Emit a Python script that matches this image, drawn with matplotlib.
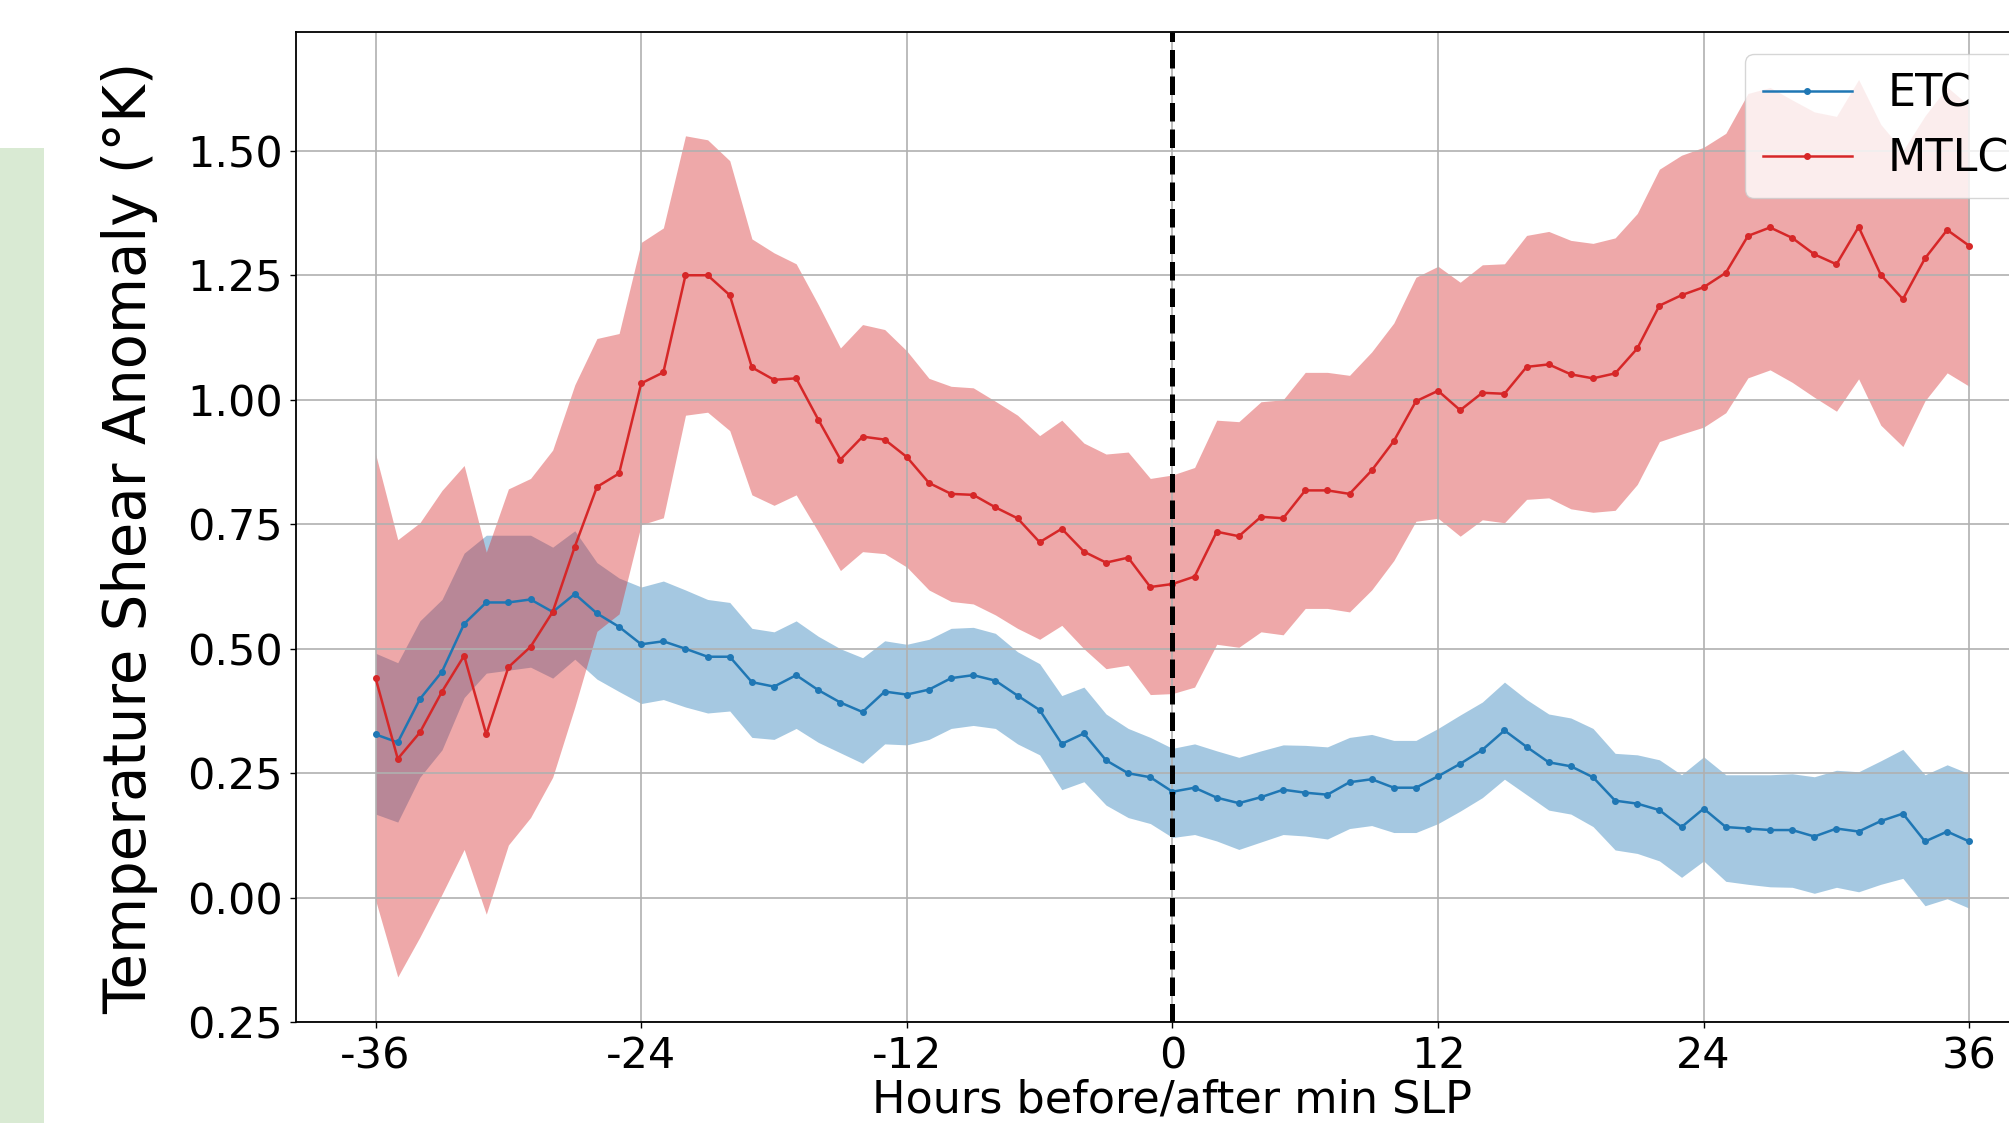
import matplotlib
matplotlib.use("Agg")
import matplotlib.pyplot as plt
from matplotlib.patches import Rectangle
import numpy as np

# hours relative to the time of minimum sea level pressure
hours = np.arange(-36, 37)

# ETC composite: mean and shaded band
etc_mean = [
    0.328, 0.312, 0.399, 0.454, 0.550, 0.593, 0.593, 0.599, 0.574, 0.610,
    0.571, 0.544, 0.509, 0.515, 0.500, 0.484, 0.484, 0.433, 0.424, 0.447,
    0.417, 0.392, 0.373, 0.414, 0.408, 0.418, 0.441, 0.447, 0.436, 0.406,
    0.377, 0.309, 0.330, 0.276, 0.250, 0.242, 0.213, 0.221, 0.201, 0.190,
    0.202, 0.217, 0.211, 0.207, 0.232, 0.238, 0.221, 0.221, 0.244, 0.269,
    0.297, 0.336, 0.303, 0.272, 0.264, 0.242, 0.195, 0.189, 0.176, 0.142,
    0.179, 0.142, 0.139, 0.136, 0.136, 0.123, 0.139, 0.133, 0.154, 0.169,
    0.113, 0.133, 0.113,
]
etc_upper = [
    0.491, 0.472, 0.556, 0.599, 0.692, 0.728, 0.728, 0.728, 0.704, 0.737,
    0.673, 0.642, 0.624, 0.636, 0.618, 0.599, 0.593, 0.541, 0.534, 0.556,
    0.525, 0.500, 0.482, 0.516, 0.509, 0.519, 0.541, 0.543, 0.531, 0.494,
    0.470, 0.406, 0.423, 0.369, 0.340, 0.322, 0.300, 0.309, 0.295, 0.282,
    0.295, 0.307, 0.306, 0.303, 0.322, 0.328, 0.316, 0.316, 0.340, 0.367,
    0.393, 0.433, 0.398, 0.369, 0.361, 0.340, 0.290, 0.287, 0.277, 0.247,
    0.283, 0.247, 0.247, 0.247, 0.249, 0.243, 0.256, 0.253, 0.275, 0.298,
    0.247, 0.267, 0.249,
]
etc_lower = [
    0.168, 0.152, 0.242, 0.297, 0.402, 0.451, 0.457, 0.463, 0.441, 0.479,
    0.439, 0.414, 0.390, 0.398, 0.383, 0.371, 0.375, 0.322, 0.318, 0.340,
    0.312, 0.291, 0.270, 0.309, 0.307, 0.318, 0.340, 0.346, 0.340, 0.309,
    0.287, 0.217, 0.233, 0.186, 0.161, 0.149, 0.121, 0.127, 0.114, 0.097,
    0.112, 0.127, 0.124, 0.118, 0.139, 0.145, 0.131, 0.131, 0.149, 0.174,
    0.201, 0.238, 0.207, 0.176, 0.168, 0.143, 0.096, 0.089, 0.074, 0.041,
    0.074, 0.033, 0.027, 0.022, 0.021, 0.009, 0.021, 0.012, 0.027, 0.039,
    -0.016, -0.002, -0.021,
]

# MTLC composite: mean and shaded band
mtlc_mean = [
    0.441, 0.279, 0.332, 0.414, 0.486, 0.328, 0.463, 0.504, 0.574, 0.705,
    0.825, 0.852, 1.033, 1.055, 1.250, 1.250, 1.210, 1.065, 1.040, 1.043,
    0.960, 0.880, 0.926, 0.920, 0.885, 0.833, 0.811, 0.809, 0.784, 0.762,
    0.714, 0.741, 0.695, 0.673, 0.683, 0.624, 0.630, 0.645, 0.735, 0.726,
    0.765, 0.762, 0.818, 0.818, 0.811, 0.858, 0.917, 0.997, 1.018, 0.979,
    1.014, 1.012, 1.066, 1.071, 1.051, 1.043, 1.053, 1.103, 1.189, 1.210,
    1.226, 1.255, 1.329, 1.346, 1.325, 1.292, 1.272, 1.347, 1.251, 1.202,
    1.284, 1.341, 1.309,
]
mtlc_upper = [
    0.891, 0.719, 0.753, 0.818, 0.868, 0.694, 0.821, 0.842, 0.899, 1.030,
    1.123, 1.133, 1.316, 1.345, 1.530, 1.522, 1.480, 1.323, 1.295, 1.273,
    1.191, 1.104, 1.151, 1.141, 1.098, 1.043, 1.027, 1.024, 0.997, 0.969,
    0.928, 0.959, 0.913, 0.891, 0.895, 0.842, 0.849, 0.864, 0.959, 0.956,
    0.996, 1.000, 1.055, 1.055, 1.049, 1.096, 1.154, 1.246, 1.268, 1.236,
    1.271, 1.273, 1.330, 1.338, 1.320, 1.314, 1.325, 1.374, 1.463, 1.491,
    1.507, 1.535, 1.615, 1.627, 1.602, 1.578, 1.569, 1.643, 1.553, 1.500,
    1.570, 1.628, 1.590,
]
mtlc_lower = [
    -0.005, -0.159, -0.079, 0.007, 0.097, -0.033, 0.106, 0.161, 0.242, 0.383,
    0.535, 0.570, 0.749, 0.763, 0.969, 0.975, 0.938, 0.809, 0.788, 0.809,
    0.735, 0.657, 0.695, 0.691, 0.664, 0.618, 0.595, 0.590, 0.568, 0.541,
    0.519, 0.547, 0.500, 0.460, 0.467, 0.408, 0.410, 0.423, 0.509, 0.503,
    0.534, 0.528, 0.581, 0.581, 0.574, 0.618, 0.677, 0.756, 0.762, 0.726,
    0.759, 0.753, 0.800, 0.803, 0.781, 0.774, 0.778, 0.830, 0.916, 0.931,
    0.945, 0.974, 1.044, 1.060, 1.035, 1.005, 0.977, 1.042, 0.949, 0.906,
    0.998, 1.054, 1.027,
]

x_ticks = [-36, -24, -12, 0, 12, 24, 36]
x_tick_labels = ["-36", "-24", "-12", "0", "12", "24", "36"]
y_ticks = [-0.25, 0.0, 0.25, 0.5, 0.75, 1.0, 1.25, 1.5]
y_tick_labels = ["0.25", "0.00", "0.25", "0.50", "0.75", "1.00", "1.25", "1.50"]

FONT = 31

fig = plt.figure(figsize=(20.09, 11.23), dpi=100)

# green slide strip on the left edge
fig.patches.append(
    Rectangle(
        (0, 0), 44 / 2009, (1123 - 148) / 1123,
        transform=fig.transFigure, facecolor="#d9ead3", edgecolor="none", zorder=0,
    )
)

# right edge of the axes runs past the picture, as in the cropped slide
ax = fig.add_axes([0.1473, 0.0897, 0.8726, 0.8816])

ax.fill_between(hours, etc_lower, etc_upper, color="tab:blue", alpha=0.4, lw=0)
ax.plot(hours, etc_mean, color="tab:blue", marker="o", ms=4, lw=1.8, label="ETC")
ax.fill_between(hours, mtlc_lower, mtlc_upper, color="tab:red", alpha=0.4, lw=0)
ax.plot(hours, mtlc_mean, color="tab:red", marker="o", ms=4, lw=1.8, label="MTLC")

ax.axvline(0, color="black", linestyle="--", linewidth=3.6)

ax.set_xlim(-39.6, 39.6)
ax.set_ylim(-0.25, 1.738)
ax.set_xticks(x_ticks)
ax.set_xticklabels(x_tick_labels)
ax.set_yticks(y_ticks)
ax.set_yticklabels(y_tick_labels)
ax.tick_params(labelsize=FONT, length=4.5, width=1, pad=5)
ax.grid(True, color="#b0b0b0", linewidth=1.2)
for spine in ax.spines.values():
    spine.set_linewidth(1.3)

ax.set_xlabel("Hours before/after min SLP", fontsize=32, labelpad=1)
ax.set_ylabel("Temperature Shear Anomaly (°K)", fontsize=41.5, va="center")
ax.yaxis.set_label_coords(-0.0947, 0.489)

ax.legend(loc="upper right", fontsize=32)

fig.savefig("out.png", dpi=100)
